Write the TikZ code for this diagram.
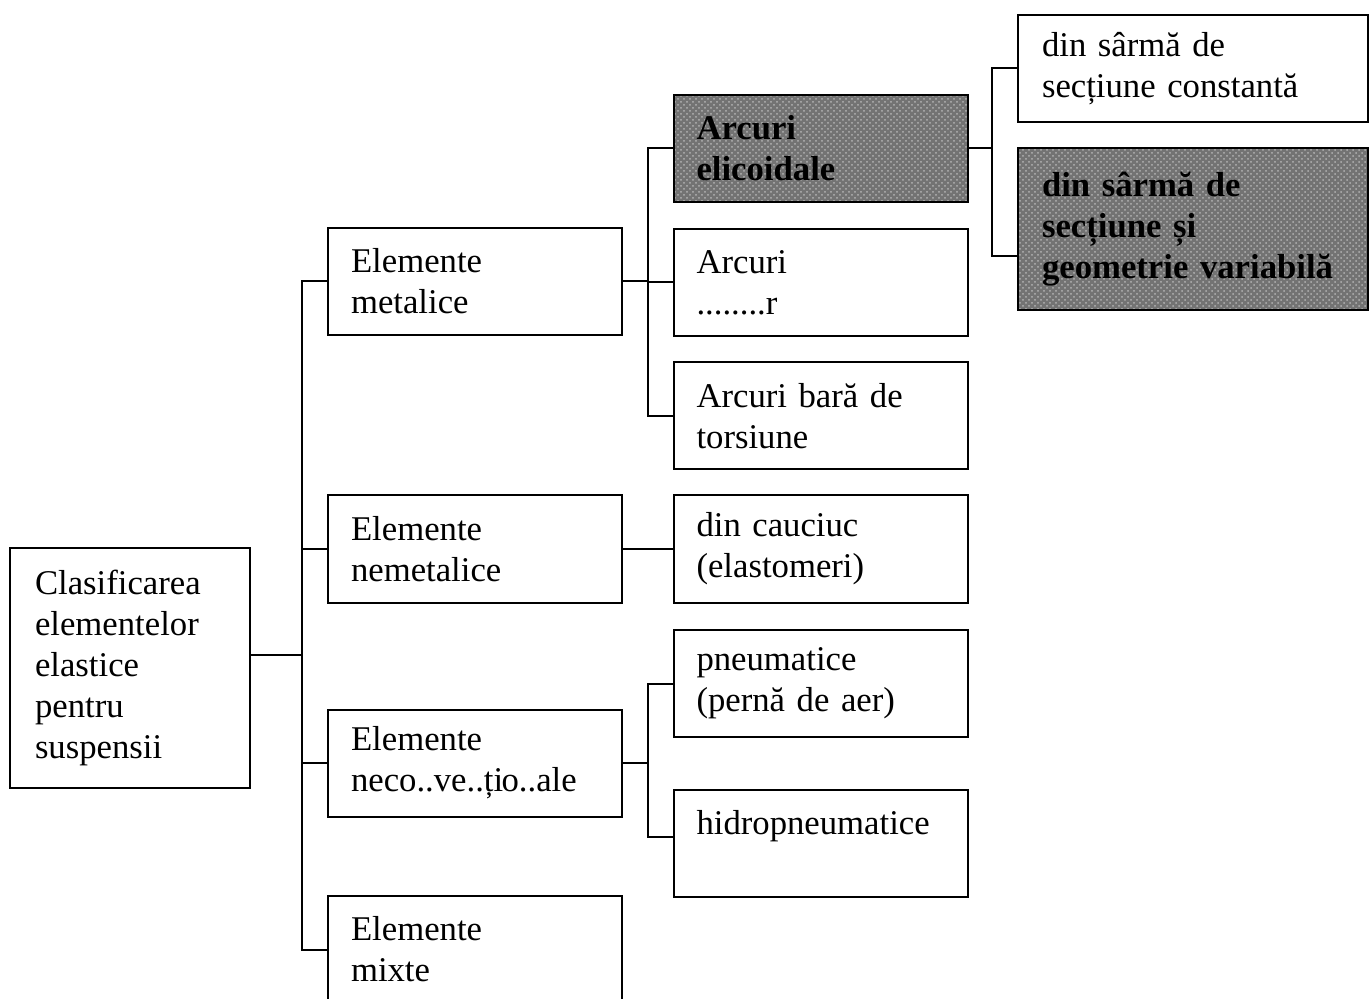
\documentclass[tikz,border=0pt]{standalone}
\usepackage{fontspec}
\setmainfont{Liberation Serif}
\usetikzlibrary{patterns}
\begin{document}
\begin{tikzpicture}[x=0.5pt,y=-0.5pt,
  box/.style={draw, line width=1pt, rectangle, align=left,
    minimum width=147pt, minimum height=53.5pt, text width=124pt,
    inner xsep=11.5pt, inner ysep=2pt,
    font=\fontsize{17.35}{20.5}\selectfont},
  shaded/.style={box, fill=black!55, preaction={fill=black!55},
    pattern=crosshatch dots, pattern color=black!30,
    font=\fontsize{17.35}{20.5}\selectfont\bfseries},
  conn/.style={line width=1pt}]
\useasboundingbox (0,0) rectangle (1370,999);
% root
\node[box, minimum width=120pt, minimum height=120pt, text width=95pt, inner xsep=12.5pt]
  (root) at (130,668) {Clasificarea\\elementelor\\elastice\\pentru\\suspensii};
% level 1
\node[box] (met)   at (475,281.5) {Elemente\\metalice};
\node[box] (nemet) at (475,549)   {Elemente\\nemetalice};
\node[box] (necon) at (475,763)   {Elemente\\neco..ve..ți\kern-0.05em o..ale};
\node[box] (mixte) at (475,949.5) {Elemente\\mixte};
% level 2
\node[shaded] (elic)  at (820.5,148.5) {Arcuri\\elicoidale};
\node[box]    (lam)   at (820.5,282.5) {Arcuri\\........r};
\node[box]    (tors)  at (820.5,416)   {Arcuri bară de\\torsiune};
\node[box]    (cauc)  at (820.5,549)   {din cauciuc\\(elastomeri)};
\node[box]    (pneu)  at (820.5,683.5) {pneumatice\\(pernă de aer)};
\node[box]    (hidro) at (820.5,843)   {hidropneumatice\\\mbox{}};
% level 3
\node[box, minimum width=175pt, text width=151pt, inner xsep=12pt]
  (const) at (1193,68.5) {din sârmă de\\secțiune constantă};
\node[shaded, minimum width=175pt, minimum height=81pt, text width=151pt, inner xsep=12pt]
  (var) at (1193,229) {din sârmă de\\secțiune și\\geometrie variabilă};
% connectors
\coordinate (j0) at (302,655);
\coordinate (j1) at (648,282);
\coordinate (j2) at (992,148);
\draw[conn] ([yshift=6.5pt]root.east) -- (j0);
\draw[conn] (met.west) -- (met.west -| j0) -- (mixte.west -| j0) -- (mixte.west);
\draw[conn] (nemet.west) -- (nemet.west -| j0);
\draw[conn] (necon.west) -- (necon.west -| j0);
\draw[conn] (met.east) -- (met.east -| j1);
\draw[conn] (elic.west) -- (elic.west -| j1) -- (tors.west -| j1) -- (tors.west);
\draw[conn] (lam.west) -- (lam.west -| j1);
\draw[conn] (nemet.east) -- (cauc.west);
\draw[conn] (necon.east) -- (necon.east -| j1);
\draw[conn] (pneu.west) -- (pneu.west -| j1) -- ([yshift=3pt]hidro.west -| j1) -- ([yshift=3pt]hidro.west);
\draw[conn] (elic.east) -- (elic.east -| j2);
\draw[conn] (const.west) -- (const.west -| j2) -- ([yshift=-13.5pt]var.west -| j2) -- ([yshift=-13.5pt]var.west);
\end{tikzpicture}
\end{document}
